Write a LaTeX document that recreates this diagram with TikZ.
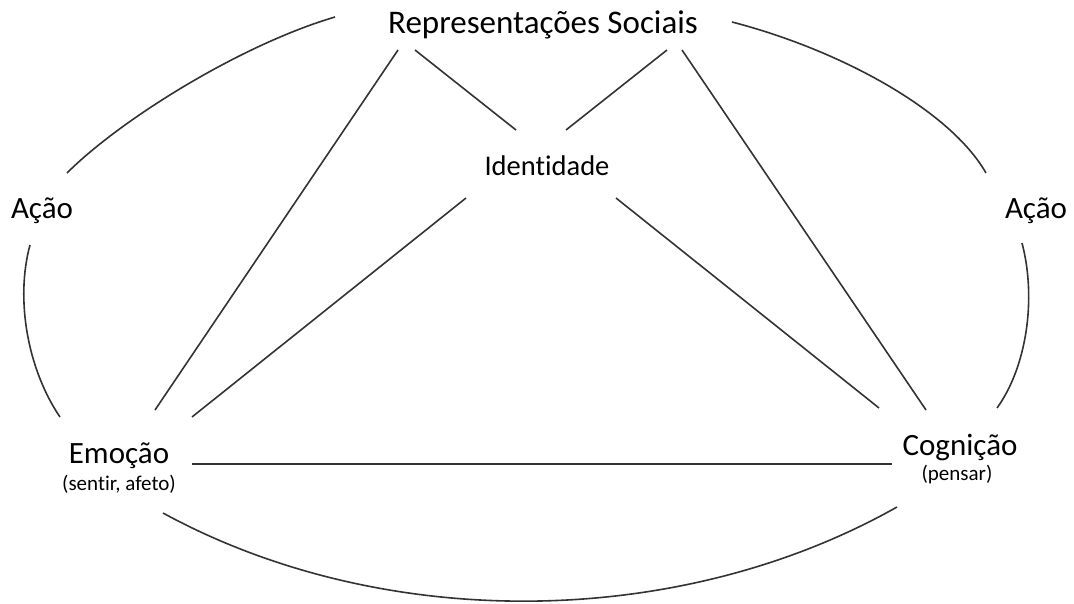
\documentclass[tikz,border=0pt]{standalone}
\usepackage{fontspec}
\setmainfont[Ligatures=NoCommon]{Carlito}
\usepackage{tikz}
\begin{document}
\begin{tikzpicture}[x=1pt,y=-1pt,
    lbl/.style={inner sep=0pt,anchor=base,font=\fontsize{31}{36}\selectfont},
    sublbl/.style={inner sep=0pt,anchor=base,font=\fontsize{21}{25}\selectfont},
    link/.style={line width=1.6pt,black!80}]
  \useasboundingbox (0,0) rectangle (1074,603);
  % labels
  \node[lbl,font=\fontsize{33}{38}\selectfont] (rs) at (543,33) {Representações Sociais};
  \node[lbl,font=\fontsize{28.5}{34}\selectfont] (idn) at (547,175) {Identidade};
  \node[lbl] (acl) at (42,218) {Ação};
  \node[lbl] (acr) at (1036,218) {Ação};
  \node[lbl] (emo) at (119,463) {Emoção};
  \node[sublbl] (emosub) at ([yshift=-27pt]emo.base) {(sentir, afeto)};
  \node[lbl] (cog) at (960,455) {Cognição};
  \node[sublbl] (cogsub) at ([xshift=-3pt,yshift=-25pt]cog.base) {(pensar)};
  % straight links
  \draw[link] ([xshift=-145pt,yshift=-17pt]rs.base) -- ([xshift=36pt,yshift=53pt]emo.base);
  \draw[link] ([xshift=-128pt,yshift=-17pt]rs.base) -- ([xshift=-31pt,yshift=45pt]idn.base);
  \draw[link] ([xshift=124pt,yshift=-17pt]rs.base) -- ([xshift=19pt,yshift=45pt]idn.base);
  \draw[link] ([xshift=139pt,yshift=-17pt]rs.base) -- ([xshift=-34pt,yshift=45pt]cog.base);
  \draw[link] ([xshift=-81pt,yshift=-23pt]idn.base) -- ([xshift=73pt,yshift=46pt]emo.base);
  \draw[link] ([xshift=69pt,yshift=-23pt]idn.base) -- ([xshift=-81pt,yshift=47pt]cog.base);
  \draw[link] ([xshift=73pt,yshift=-1pt]emo.base) -- ([xshift=-68pt,yshift=-9pt]cog.base);
  % outer arcs
  \draw[link] ([xshift=-208pt,yshift=16pt]rs.base) .. controls +(-95,28) and +(53,-53) .. ([xshift=25pt,yshift=45pt]acl.base);
  \draw[link] ([xshift=189pt,yshift=11pt]rs.base) .. controls +(108,28) and +(-36,-63) .. ([xshift=-50pt,yshift=45pt]acr.base);
  \draw[link] ([xshift=-12pt,yshift=-27pt]acl.base) .. controls +(-15,55) and +(-32,-47) .. ([xshift=-59pt,yshift=46pt]emo.base);
  \draw[link] ([xshift=-14pt,yshift=-25pt]acr.base) .. controls +(15,57) and +(29,-40) .. ([xshift=37pt,yshift=47pt]cog.base);
  \draw[link] ([xshift=44pt,yshift=-50pt]emo.base) .. controls +(220,120) and +(-218,123) .. ([xshift=-63pt,yshift=-52pt]cog.base);
\end{tikzpicture}
\end{document}
